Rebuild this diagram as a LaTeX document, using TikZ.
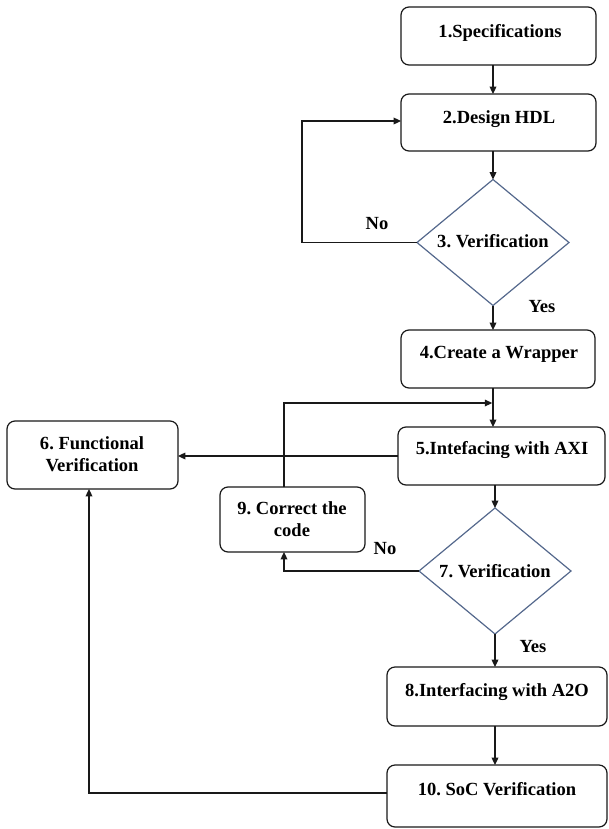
\documentclass[tikz,border=0pt]{standalone}
\usepackage{fontspec}
\setmainfont{Liberation Serif}
\usetikzlibrary{arrows.meta,fit,shapes.geometric}
\definecolor{dcol}{RGB}{84,104,140}
\definecolor{lcol}{RGB}{25,25,25}
\frenchspacing
\begin{document}
\begin{tikzpicture}[x=0.75pt,y=-0.75pt,
 box/.style={draw=lcol, line width=0.9pt, rounded corners=6pt, inner sep=0pt, outer sep=0pt},
 dia/.style={draw=dcol, line width=0.9pt, diamond, inner sep=0pt, outer sep=0pt, minimum width=114pt, minimum height=94.5pt},
 txt/.style={font=\fontsize{13.9}{16.5}\selectfont\bfseries\frenchspacing, inner sep=0pt, align=center, text=black},
 conn/.style={draw=lcol, line width=0.9pt},
 arr/.style={conn, -{Triangle[length=5.5pt,width=5pt]}},
]
\useasboundingbox (0,0) rectangle (608,829);
% boxes
\node[box, fit={(401,7)(596,65)}] (b1) {};
\node[box, fit={(401,94)(596,151)}] (b2) {};
\node[dia] (d3) at (493,242.5) {};
\node[box, fit={(401,330)(595,388)}] (b4) {};
\node[box, fit={(398,427)(605,485)}] (b5) {};
\node[box, fit={(7,421)(178,489)}] (b6) {};
\node[dia] (d7) at (495,571) {};
\node[box, fit={(220,487)(365,552)}] (b9) {};
\node[box, fit={(387,667)(607,726)}] (b8) {};
\node[box, fit={(387,765)(607,827)}] (b10) {};
% texts
\node[txt] (t1) at (500,33) {1.Specifications};
\node[txt] (t2) at (499,119) {2.Design HDL};
\node[txt] (t3) at (493,241) {3. Verification};
\node[txt] (t4) at (499,354) {4.Create a Wrapper};
\node[txt] (t5) at (502,450) {5.Intefacing with AXI};
\node[txt] (t6) at (92,454) {6. Functional\\Verification};
\node[txt] (t7) at (495,571) {7. Verification};
\node[txt] (t9) at (292,519) {9. Correct the\\code};
\node[txt] (t8) at (497,692) {8.Interfacing with A2O};
\node[txt] (t10) at (497,789) {10. SoC Verification};
\node[txt] (nA) at (377,224) {No};
\node[txt] (yA) at (542,307) {Yes};
\node[txt] (nB) at (385,549) {No};
\node[txt] (yB) at (533,647) {Yes};
% helper coordinates
\coordinate (l3) at (302,121);
\coordinate (lp) at (284,403);
\coordinate (lq) at (89,793);
% connectors
\draw[arr] (b1.south -| d3) -- (b2.north -| d3);
\draw[arr] (b2.south -| d3) -- (d3.north);
\draw[arr] (d3.west) -| (l3) -- (l3 -| b2.west);
\draw[arr] (d3.south) -- (b4.north -| d3);
\draw[arr] (b4.south -| d3) -- (b5.north -| d3);
\draw[arr] (b5.west) -- (b5.west -| b6.east);
\draw[arr] (b5.south -| d7) -- (d7.north);
\draw[arr] (d7.west) -| (b9.south -| lp);
\draw[arr, shorten >=0.6pt] (b9.north -| lp) -- (lp) -- (lp -| d3);
\draw[arr] (d7.south) -- (b8.north -| d7);
\draw[arr] (b8.south -| d7) -- (b10.north -| d7);
\draw[arr] (b10.west |- lq) -- (lq) -- (b6.south -| lq);
\end{tikzpicture}
\end{document}
